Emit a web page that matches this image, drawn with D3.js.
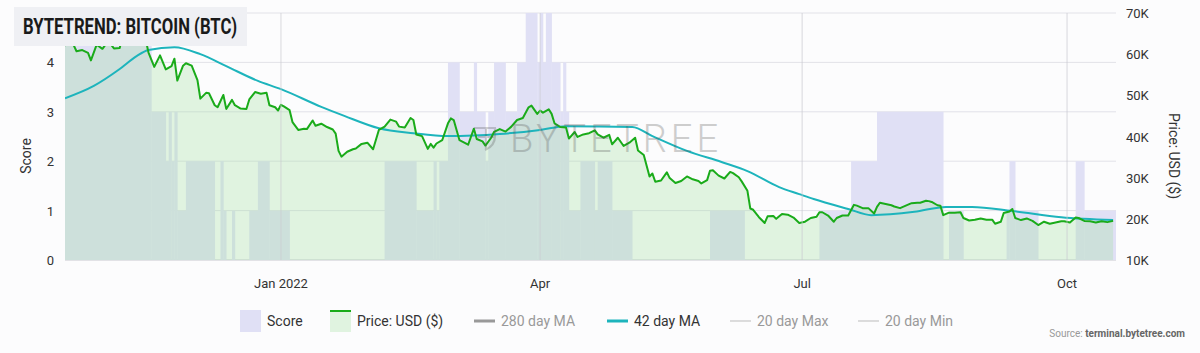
<!DOCTYPE html>
<meta charset="utf-8">
<style>
    body { margin: 0; background: #fcfcfd; }
    text { font-family: Roboto, Inter, sans-serif; }
</style>
<svg width="1200" height="353"></svg>
<script src="https://d3js.org/d3.v7.min.js"></script>
<script>

    // score: each entry starts a run that lasts until the next start
    var scoreStart = ["2021-10-18", "2021-11-17", "2021-11-22", "2021-11-23", "2021-11-24", "2021-11-25", "2021-11-26",
        "2021-11-29", "2021-12-09", "2021-12-11", "2021-12-12", "2021-12-13", "2021-12-15", "2021-12-16", "2021-12-21",
        "2021-12-24", "2021-12-28", "2022-01-04", "2022-02-06", "2022-02-17", "2022-02-23", "2022-02-24", "2022-02-25",
        "2022-02-28", "2022-03-04", "2022-03-09", "2022-03-10", "2022-03-13", "2022-03-14", "2022-03-16", "2022-03-20",
        "2022-03-24", "2022-03-27", "2022-03-31", "2022-04-01", "2022-04-02", "2022-04-03", "2022-04-05", "2022-04-08",
        "2022-04-09", "2022-04-10", "2022-04-11", "2022-04-15", "2022-04-20", "2022-04-21", "2022-04-26", "2022-05-03",
        "2022-05-30", "2022-06-11", "2022-07-07", "2022-07-18", "2022-07-27", "2022-08-19", "2022-08-21", "2022-08-26",
        "2022-09-10", "2022-09-11", "2022-09-13", "2022-09-21", "2022-10-04", "2022-10-07"];
    var scoreValue = [5, 3, 2, 3, 2, 3, 1,
        2, 0, 2, 1, 0, 1, 0, 1,
        2, 1, 0, 2, 1, 2, 1, 2,
        4, 3, 4, 3, 2, 3, 4, 3,
        4, 5, 4, 5, 4, 5, 4, 3,
        4, 3, 1, 2, 1, 2, 1, 0,
        1, 0, 1, 2, 3, 0, 1, 0,
        1, 2, 1, 0, 2, 1];
    var scoreEnd = "2022-10-18";

    // BTC price, USD thousands
    var priceDates = ["2021-10-18", "2021-10-20", "2021-10-21", "2021-10-22", "2021-10-24", "2021-10-26", "2021-10-27",
        "2021-10-29", "2021-10-31", "2021-11-02", "2021-11-04", "2021-11-06", "2021-11-08", "2021-11-09", "2021-11-10",
        "2021-11-12", "2021-11-14", "2021-11-15", "2021-11-16", "2021-11-18", "2021-11-20", "2021-11-22", "2021-11-24",
        "2021-11-25", "2021-11-26", "2021-11-28", "2021-11-29", "2021-12-01", "2021-12-03", "2021-12-04", "2021-12-06",
        "2021-12-07", "2021-12-09", "2021-12-10", "2021-12-12", "2021-12-13", "2021-12-15", "2021-12-16", "2021-12-18",
        "2021-12-20", "2021-12-21", "2021-12-23", "2021-12-25", "2021-12-27", "2021-12-28", "2021-12-30", "2021-12-31",
        "2022-01-01", "2022-01-02", "2022-01-04", "2022-01-05", "2022-01-07", "2022-01-09", "2022-01-10", "2022-01-12",
        "2022-01-13", "2022-01-15", "2022-01-17", "2022-01-19", "2022-01-20", "2022-01-21", "2022-01-22", "2022-01-24",
        "2022-01-26", "2022-01-27", "2022-01-29", "2022-01-31", "2022-02-02", "2022-02-04", "2022-02-06", "2022-02-08",
        "2022-02-10", "2022-02-11", "2022-02-13", "2022-02-15", "2022-02-16", "2022-02-17", "2022-02-19", "2022-02-21",
        "2022-02-22", "2022-02-23", "2022-02-24", "2022-02-26", "2022-02-28", "2022-03-01", "2022-03-02", "2022-03-04",
        "2022-03-06", "2022-03-07", "2022-03-09", "2022-03-10", "2022-03-12", "2022-03-13", "2022-03-15", "2022-03-16",
        "2022-03-18", "2022-03-20", "2022-03-22", "2022-03-24", "2022-03-26", "2022-03-28", "2022-03-29", "2022-03-31",
        "2022-04-01", "2022-04-02", "2022-04-04", "2022-04-05", "2022-04-06", "2022-04-08", "2022-04-10", "2022-04-11",
        "2022-04-13", "2022-04-14", "2022-04-16", "2022-04-18", "2022-04-20", "2022-04-21", "2022-04-23", "2022-04-25",
        "2022-04-26", "2022-04-28", "2022-04-30", "2022-05-02", "2022-05-04", "2022-05-05", "2022-05-07", "2022-05-09",
        "2022-05-10", "2022-05-11", "2022-05-13", "2022-05-15", "2022-05-16", "2022-05-18", "2022-05-20", "2022-05-22",
        "2022-05-24", "2022-05-26", "2022-05-27", "2022-05-29", "2022-05-30", "2022-05-31", "2022-06-02", "2022-06-04",
        "2022-06-06", "2022-06-07", "2022-06-09", "2022-06-10", "2022-06-12", "2022-06-13", "2022-06-14", "2022-06-16",
        "2022-06-18", "2022-06-19", "2022-06-21", "2022-06-22", "2022-06-24", "2022-06-26", "2022-06-28", "2022-06-30",
        "2022-07-02", "2022-07-04", "2022-07-06", "2022-07-07", "2022-07-08", "2022-07-10", "2022-07-12", "2022-07-13",
        "2022-07-15", "2022-07-17", "2022-07-19", "2022-07-20", "2022-07-22", "2022-07-24", "2022-07-26", "2022-07-27",
        "2022-07-28", "2022-07-30", "2022-08-01", "2022-08-02", "2022-08-04", "2022-08-06", "2022-08-08", "2022-08-10",
        "2022-08-11", "2022-08-13", "2022-08-14", "2022-08-15", "2022-08-17", "2022-08-18", "2022-08-19", "2022-08-21",
        "2022-08-23", "2022-08-25", "2022-08-26", "2022-08-28", "2022-08-30", "2022-09-01", "2022-09-03", "2022-09-05",
        "2022-09-06", "2022-09-08", "2022-09-09", "2022-09-11", "2022-09-12", "2022-09-13", "2022-09-15", "2022-09-17",
        "2022-09-19", "2022-09-21", "2022-09-23", "2022-09-25", "2022-09-27", "2022-09-29", "2022-09-30", "2022-10-02",
        "2022-10-04", "2022-10-05", "2022-10-07", "2022-10-09", "2022-10-11", "2022-10-13", "2022-10-15", "2022-10-17"];
    var priceValues = [62.0, 66.0, 62.2, 60.7, 61.0, 60.3, 58.5,
        62.3, 61.3, 63.2, 61.4, 61.5, 67.5, 66.9, 64.9,
        64.2, 65.5, 63.6, 60.4, 56.9, 59.7, 56.3, 57.1,
        58.9, 53.6, 57.2, 57.8, 57.2, 53.7, 49.2, 50.6,
        50.5, 47.6, 47.1, 50.1, 46.7, 48.9, 47.6, 46.8,
        46.7, 49.0, 50.8, 50.4, 50.6, 47.6, 47.1, 46.3,
        47.7, 47.3, 46.4, 43.5, 41.6, 41.9, 41.8, 43.9,
        42.6, 43.1, 42.3, 41.7, 40.7, 36.5, 35.1, 36.3,
        36.9, 37.1, 38.2, 38.5, 36.9, 41.6, 42.4, 44.1,
        43.6, 42.4, 42.2, 44.5, 44.0, 40.5, 40.1, 37.0,
        38.2, 37.3, 38.3, 39.1, 43.2, 44.4, 44.0, 39.1,
        38.4, 38.0, 41.9, 39.4, 38.8, 37.8, 39.7, 41.1,
        41.8, 41.2, 42.4, 44.0, 44.5, 47.1, 47.5, 45.5,
        46.3, 45.8, 46.6, 45.5, 43.2, 42.3, 42.2, 39.5,
        41.1, 39.9, 40.5, 40.8, 41.5, 40.5, 39.7, 40.4,
        38.1, 39.7, 37.7, 38.5, 39.7, 36.6, 35.5, 30.3,
        31.0, 29.0, 29.3, 31.3, 29.9, 28.7, 29.2, 30.3,
        29.6, 29.2, 28.6, 29.4, 31.7, 31.8, 30.5, 29.8,
        31.4, 31.1, 30.1, 29.1, 26.8, 22.5, 22.2, 20.4,
        19.0, 20.6, 20.7, 20.0, 21.2, 21.0, 20.3, 19.0,
        19.3, 20.2, 20.5, 21.6, 21.6, 20.8, 19.3, 20.2,
        20.8, 20.8, 23.4, 23.2, 22.6, 22.6, 21.3, 22.9,
        23.9, 23.6, 23.3, 23.0, 22.6, 23.2, 23.8, 23.9,
        23.9, 24.4, 24.3, 24.1, 23.3, 23.2, 20.9, 21.5,
        21.5, 21.6, 20.2, 19.6, 19.8, 20.1, 19.8, 19.8,
        18.8, 19.3, 21.4, 21.8, 22.4, 20.2, 19.7, 20.1,
        19.5, 18.5, 19.3, 18.8, 19.1, 19.4, 19.4, 19.1,
        20.3, 20.2, 19.5, 19.4, 19.1, 19.4, 19.2, 19.5];

    // 42 day moving average, USD thousands
    var maDates = ["2021-10-18", "2021-10-28", "2021-11-06", "2021-11-12", "2021-11-16", "2021-11-25", "2021-12-04",
        "2021-12-13", "2021-12-24", "2022-01-01", "2022-01-15", "2022-01-23", "2022-02-04", "2022-02-16", "2022-02-28",
        "2022-03-18", "2022-04-01", "2022-04-10", "2022-05-03", "2022-05-10", "2022-05-22", "2022-06-03", "2022-06-12",
        "2022-06-23", "2022-06-30", "2022-07-05", "2022-07-17", "2022-07-25", "2022-08-09", "2022-08-20", "2022-08-29",
        "2022-09-12", "2022-09-29", "2022-10-17"];
    var maValues = [49.3, 52.3, 56.4, 59.6, 61.0, 61.7, 60.0,
        57.1, 53.5, 51.5, 47.2, 45.0, 42.0, 40.8, 40.1,
        40.6, 41.6, 42.5, 42.3, 40.1, 36.5, 33.8, 31.6,
        27.7, 26.0, 24.8, 22.4, 20.9, 21.7, 22.9, 22.9,
        21.9, 20.4, 19.7];

    var scoreTicks = [0, 1, 2, 3, 4, 5];
    var scoreLabels = [0, 1, 2, 3, 4];   // "5" sits under the title box
    var priceTicks = [10, 20, 30, 40, 50, 60, 70];
    var monthTicks = ["2022-01-01", "2022-04-01", "2022-07-01", "2022-10-01"];
    var monthLabels = ["Jan 2022", "Apr", "Jul", "Oct"];

    var parse = d3.timeParse("%Y-%m-%d");
    var svg = d3.select("svg");
    var plotLeft = 65, plotRight = 1116, plotTop = 13, plotBottom = 260;

    var x = d3.scaleTime()
        .domain([parse("2021-10-18"), parse("2022-10-18")])
        .range([plotLeft, plotRight]);
    var yScore = d3.scaleLinear().domain([0, 5]).range([plotBottom, plotTop]);
    var yPrice = d3.scaleLinear().domain([10, 70]).range([plotBottom, plotTop]);

    svg.append("defs").append("clipPath")
        .attr("id", "clip")
        .append("rect")
        .attr("x", plotLeft).attr("y", plotTop)
        .attr("width", plotRight - plotLeft).attr("height", plotBottom - plotTop);

    // gridlines
    svg.append("g").selectAll("line")
        .data(scoreTicks)
        .join("line")
        .attr("x1", plotLeft).attr("x2", plotRight)
        .attr("y1", d => yScore(d)).attr("y2", d => yScore(d))
        .attr("stroke", d => d === 0 ? "#c8c8d0" : "#e2e2e8")
        .attr("stroke-width", 1);

    var plot = svg.append("g").attr("clip-path", "url(#clip)");

    // score columns
    var runs = scoreStart.map(function (s, i) {
        return {
            x0: parse(s),
            x1: parse(i + 1 < scoreStart.length ? scoreStart[i + 1] : scoreEnd),
            v: scoreValue[i]
        };
    });
    plot.append("g").selectAll("rect")
        .data(runs.filter(d => d.v > 0))
        .join("rect")
        .attr("x", d => x(d.x0))
        .attr("width", d => x(d.x1) - x(d.x0) + 0.3)
        .attr("y", d => yScore(d.v))
        .attr("height", d => yScore(0) - yScore(d.v))
        .attr("fill", "#e0e0f5");

    var price = priceDates.map((d, i) => ({ date: parse(d), v: priceValues[i] }));
    var ma = maDates.map((d, i) => ({ date: parse(d), v: maValues[i] }));

    plot.append("path")
        .datum(price)
        .attr("fill", "rgb(164,224,164)")
        .attr("fill-opacity", 0.32)
        .attr("d", d3.area().x(d => x(d.date)).y0(yPrice(10)).y1(d => yPrice(d.v)));

    // vertical gridlines
    svg.append("g").selectAll("line")
        .data(monthTicks)
        .join("line")
        .attr("x1", d => x(parse(d))).attr("x2", d => x(parse(d)))
        .attr("y1", plotTop).attr("y2", plotBottom)
        .attr("stroke", "#c9c9d0")
        .attr("stroke-opacity", 0.7);

    // watermark
    var wm = svg.append("g").attr("opacity", 0.28);
    wm.append("path")
        .attr("d", "M474,128 h22 M478,137 h17 M495,128 v8 q0,10 -10,14 M486,128 v22")
        .attr("fill", "none").attr("stroke", "#555").attr("stroke-width", 2.2);
    wm.append("text")
        .attr("x", 510).attr("y", 152)
        .attr("textLength", 208).attr("lengthAdjust", "spacing")
        .attr("font-size", 38).attr("font-weight", 300)
        .attr("fill", "#555")
        .text("BYTETREE");

    plot.append("path")
        .datum(ma)
        .attr("fill", "none")
        .attr("stroke", "#1db4bc")
        .attr("stroke-width", 2)
        .attr("d", d3.line().curve(d3.curveMonotoneX).x(d => x(d.date)).y(d => yPrice(d.v)));

    plot.append("path")
        .datum(price)
        .attr("fill", "none")
        .attr("stroke", "#1aab1a")
        .attr("stroke-width", 2)
        .attr("stroke-linejoin", "round")
        .attr("d", d3.line().x(d => x(d.date)).y(d => yPrice(d.v)));

    // axes
    svg.append("g").selectAll("text")
        .data(scoreLabels)
        .join("text")
        .attr("x", 54).attr("y", d => yScore(d) + 5)
        .attr("text-anchor", "end")
        .attr("font-size", 13).attr("fill", "#333")
        .text(d => d);

    svg.append("g").selectAll("text")
        .data(priceTicks)
        .join("text")
        .attr("x", 1126).attr("y", d => yPrice(d) + 5)
        .attr("font-size", 13).attr("fill", "#333")
        .text(d => d + "K");

    svg.append("g").selectAll("text")
        .data(monthTicks)
        .join("text")
        .attr("x", d => x(parse(d))).attr("y", 288)
        .attr("text-anchor", "middle")
        .attr("font-size", 13).attr("fill", "#333")
        .text((d, i) => monthLabels[i]);

    svg.append("text")
        .attr("transform", "translate(31,156) rotate(-90)")
        .attr("text-anchor", "middle")
        .attr("font-size", 14).attr("fill", "#333")
        .text("Score");

    svg.append("text")
        .attr("transform", "translate(1169,156) rotate(90)")
        .attr("text-anchor", "middle")
        .attr("font-size", 14).attr("fill", "#333")
        .text("Price: USD ($)");

    // title
    svg.append("rect")
        .attr("x", 14).attr("y", 7).attr("width", 233).attr("height", 39)
        .attr("fill", "#eff0f4");
    svg.append("text")
        .attr("x", 23).attr("y", 34)
        .attr("textLength", 214).attr("lengthAdjust", "spacingAndGlyphs")
        .attr("font-family", "'Roboto Condensed', 'Liberation Sans Narrow', Roboto, sans-serif")
        .attr("font-size", 22).attr("font-weight", 700).attr("fill", "#1a1a1a")
        .text("BYTETREND: BITCOIN (BTC)");

    // legend
    var lg = svg.append("g").attr("font-size", 14);
    lg.append("rect").attr("x", 240).attr("y", 310).attr("width", 21).attr("height", 22).attr("fill", "#e0e0f5");
    lg.append("text").attr("x", 267).attr("y", 326).attr("fill", "#333").text("Score");
    lg.append("rect").attr("x", 330).attr("y", 310).attr("width", 21).attr("height", 22)
        .attr("fill", "rgb(164,224,164)").attr("fill-opacity", 0.32);
    lg.append("line").attr("x1", 330).attr("x2", 351).attr("y1", 311).attr("y2", 311)
        .attr("stroke", "#1aab1a").attr("stroke-width", 2);
    lg.append("text").attr("x", 357).attr("y", 326).attr("fill", "#333").text("Price: USD ($)");

    var lineItems = [
        { x: 474, label: "280 day MA", stroke: "#999", w: 3, color: "#999" },
        { x: 607, label: "42 day MA", stroke: "#1db4bc", w: 3, color: "#333" },
        { x: 730, label: "20 day Max", stroke: "#bbb", w: 1, color: "#999" },
        { x: 858, label: "20 day Min", stroke: "#bbb", w: 1, color: "#999" }
    ];
    lineItems.forEach(function (d) {
        lg.append("line").attr("x1", d.x).attr("x2", d.x + 21).attr("y1", 321).attr("y2", 321)
            .attr("stroke", d.stroke).attr("stroke-width", d.w);
        lg.append("text").attr("x", d.x + 27).attr("y", 326).attr("fill", d.color).text(d.label);
    });

    var src = svg.append("text")
        .attr("x", 1185).attr("y", 337)
        .attr("text-anchor", "end")
        .attr("font-size", 10);
    src.append("tspan").attr("fill", "#999").text("Source: ");
    src.append("tspan").attr("fill", "#666").attr("font-weight", 700).text("terminal.bytetree.com");

</script>
